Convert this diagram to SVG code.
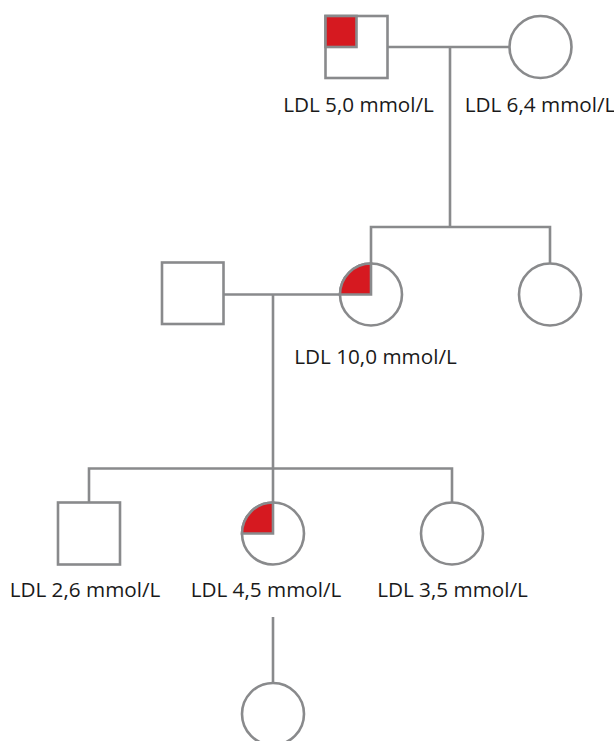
<svg xmlns="http://www.w3.org/2000/svg" width="614" height="741" viewBox="0 0 614 741">
  <style>
    .ln { fill: none; stroke: #898a8c; stroke-width: 2.6; }
    .sym { fill: #ffffff; stroke: #898a8c; stroke-width: 2.6; }
    .aff { fill: #d61920; stroke: #898a8c; stroke-width: 2.6; stroke-linejoin: miter; }
    .lbl { font-family: "Open Sans", "Liberation Sans", sans-serif; font-size: 20.7px; fill: #1a1a1a; text-anchor: middle; }
  </style>
  <rect width="614" height="741" fill="#ffffff"/>

  <!-- connectors: marriage lines, descent lines, sibship lines -->
  <g id="connectors">
    <line class="ln" x1="387.5" y1="47" x2="509.5" y2="47"/>
    <line class="ln" x1="450" y1="47" x2="450" y2="227"/>
    <polyline class="ln" points="371,263.5 371,227 550,227 550,263.5"/>
    <line class="ln" x1="223.5" y1="294.5" x2="340" y2="294.5"/>
    <line class="ln" x1="273" y1="294.5" x2="273" y2="468.5"/>
    <polyline class="ln" points="89,502.5 89,468.5 452,468.5 452,502.5"/>
    <line class="ln" x1="273" y1="468.5" x2="273" y2="502.5"/>
    <line class="ln" x1="273" y1="617" x2="273" y2="683"/>
  </g>

  <!-- generation I -->
  <g id="grandfather">
    <rect class="sym" x="325.5" y="16" width="62" height="62"/>
    <rect class="aff" x="325.5" y="16" width="31" height="31"/>
    <text class="lbl" x="358.5" y="112">LDL 5,0 mmol/L</text>
  </g>
  <g id="grandmother">
    <circle class="sym" cx="540.5" cy="47" r="31"/>
    <text class="lbl" x="540" y="112">LDL 6,4 mmol/L</text>
  </g>

  <!-- generation II -->
  <g id="father">
    <rect class="sym" x="162" y="262.5" width="61.5" height="61.5"/>
  </g>
  <g id="mother">
    <circle class="sym" cx="371" cy="294.5" r="31"/>
    <path class="aff" d="M371,294.5 L340,294.5 A31,31 0 0 1 371,263.5 Z"/>
    <text class="lbl" x="375.5" y="364">LDL 10,0 mmol/L</text>
  </g>
  <g id="aunt">
    <circle class="sym" cx="550" cy="294.5" r="31"/>
  </g>

  <!-- generation III -->
  <g id="son">
    <rect class="sym" x="58" y="502.5" width="62" height="62"/>
    <text class="lbl" x="85" y="597">LDL 2,6 mmol/L</text>
  </g>
  <g id="daughter">
    <circle class="sym" cx="273" cy="533.5" r="31"/>
    <path class="aff" d="M273,533.5 L242,533.5 A31,31 0 0 1 273,502.5 Z"/>
    <text class="lbl" x="266" y="597">LDL 4,5 mmol/L</text>
  </g>
  <g id="daughter2">
    <circle class="sym" cx="452" cy="533.5" r="31"/>
    <text class="lbl" x="452.5" y="597">LDL 3,5 mmol/L</text>
  </g>

  <!-- generation IV -->
  <g id="granddaughter">
    <circle class="sym" cx="273" cy="714" r="31"/>
  </g>
</svg>
